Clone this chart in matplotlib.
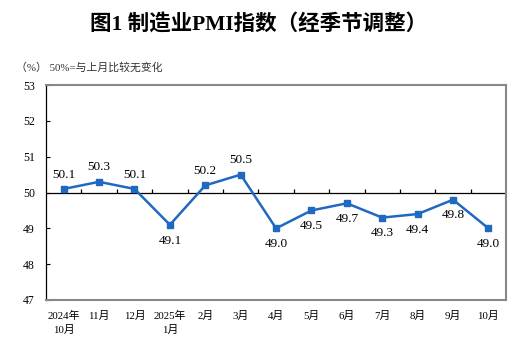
import matplotlib
matplotlib.use("Agg")
import matplotlib.pyplot as plt

months = ["2024年\n10月", "11月", "12月", "2025年\n1月", "2月", "3月", "4月",
          "5月", "6月", "7月", "8月", "9月", "10月"]
pmi = [50.1, 50.3, 50.1, 49.1, 50.2, 50.5, 49.0, 49.5, 49.7, 49.3, 49.4, 49.8, 49.0]
# label above the point (True) or below (False)
label_above = [True, True, True, False, True, True, False, False, False, False, False, False, False]

serif_cjk = ["Liberation Serif", "Noto Sans CJK SC"]
blue = "#1f69c1"

fig = plt.figure(figsize=(5.17, 3.46), dpi=100)
ax = fig.add_axes([0.089, 0.133, 0.89, 0.621])

x = list(range(len(pmi)))
ax.plot(x, pmi, color=blue, lw=1.8, marker="s", ms=4.5, mfc=blue, mec=blue, zorder=3)

for i, v in enumerate(pmi):
    if label_above[i]:
        ax.annotate(f"{v:.1f}", (i, v), textcoords="offset points", xytext=(0, 6),
                    ha="center", va="bottom", fontsize=9.5, family="Liberation Serif")
    else:
        ax.annotate(f"{v:.1f}", (i, v), textcoords="offset points", xytext=(0, -7),
                    ha="center", va="top", fontsize=9.5, family="Liberation Serif")

# 50 reference line with small category ticks
ax.axhline(50, color="black", lw=0.9, zorder=2)
ax.vlines([k - 0.5 for k in range(1, len(pmi))], 50, 50.1, color="black", lw=0.9)

ax.set_xlim(-0.5, len(pmi) - 0.5)
ax.set_ylim(47, 53)
ax.set_yticks(range(47, 54))
ax.set_xticks(x)
ax.set_xticklabels(months, family=serif_cjk, fontsize=7.8, linespacing=1.4)
ax.tick_params(axis="x", length=0, pad=8)
ax.tick_params(axis="y", direction="in", length=3, width=0.8, pad=8, labelsize=8.5)
for lab in ax.get_yticklabels():
    lab.set_family("Liberation Serif")

for side in ["top", "right", "bottom"]:
    ax.spines[side].set_color("#888888")
    ax.spines[side].set_linewidth(1.5)
ax.spines["left"].set_color("black")
ax.spines["left"].set_linewidth(0.9)

fig.text(0.5, 0.93, "图1 制造业PMI指数（经季节调整）", ha="center", va="center",
         fontsize=15.5, fontweight="bold", family=serif_cjk)
fig.text(0.03, 0.805, "（%） 50%=与上月比较无变化", ha="left", va="center",
         fontsize=7.8, family=serif_cjk, color="#333333")

fig.savefig("out.png", dpi=100)
